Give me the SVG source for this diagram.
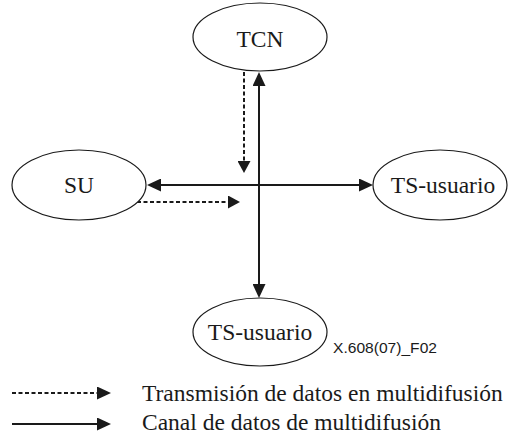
<svg xmlns="http://www.w3.org/2000/svg" width="509" height="438" viewBox="0 0 509 438">
  <style>
    .node ellipse { fill: #ffffff; stroke: #1a1a1a; stroke-width: 1.2; }
    .solid { stroke: #1a1a1a; stroke-width: 2; fill: none; }
    .dashed { stroke: #1a1a1a; stroke-width: 2; fill: none; stroke-dasharray: 4 2.5; }
  </style>
  <defs>
    <marker id="head" viewBox="0 0 14 13" markerWidth="14" markerHeight="13" refX="4" refY="6.5" orient="auto-start-reverse" markerUnits="userSpaceOnUse">
      <path d="M0,0 L14,6.5 L0,13 z" fill="#1a1a1a"/>
    </marker>
    <marker id="headSmall" viewBox="0 0 12 13" markerWidth="12" markerHeight="13" refX="3" refY="6.5" orient="auto" markerUnits="userSpaceOnUse">
      <path d="M0,0 L12,6.5 L0,13 z" fill="#1a1a1a"/>
    </marker>
  </defs>

  <!-- connectors -->
  <g id="connectors">
    <!-- multicast data channel: vertical TCN <-> TS-usuario (bottom) -->
    <line class="solid" x1="259" y1="82" x2="259" y2="288" marker-start="url(#head)" marker-end="url(#head)"/>
    <!-- multicast data channel: horizontal SU <-> TS-usuario (right) -->
    <line class="solid" x1="157" y1="185" x2="363" y2="185" marker-start="url(#head)" marker-end="url(#head)"/>
    <!-- multicast data transmission from TCN -->
    <line class="dashed" x1="244" y1="72" x2="244" y2="164" marker-end="url(#headSmall)"/>
    <!-- multicast data transmission from SU -->
    <line class="dashed" x1="137" y1="202" x2="231" y2="202" marker-end="url(#headSmall)"/>
  </g>

  <g id="node-tcn" class="node">
    <ellipse cx="260" cy="37" rx="67" ry="34"/>
    <text font-family="'Liberation Serif', serif" font-size="23.5" fill="#1a1a1a" text-anchor="middle" x="260" y="47">TCN</text>
  </g>

  <g id="node-su" class="node">
    <ellipse cx="79" cy="185" rx="67" ry="35"/>
    <text font-family="'Liberation Serif', serif" font-size="23.5" fill="#1a1a1a" text-anchor="middle" x="79" y="193">SU</text>
  </g>

  <g id="node-ts-right" class="node">
    <ellipse cx="440" cy="185" rx="67" ry="35"/>
    <text font-family="'Liberation Serif', serif" font-size="23.5" fill="#1a1a1a" text-anchor="middle" x="443" y="193">TS-usuario</text>
  </g>

  <g id="node-ts-bottom" class="node">
    <ellipse cx="260" cy="332" rx="67" ry="34"/>
    <text font-family="'Liberation Serif', serif" font-size="23.5" fill="#1a1a1a" text-anchor="middle" x="260" y="340">TS-usuario</text>
  </g>

  <text font-family="'Liberation Sans', sans-serif" font-size="14" fill="#1a1a1a" x="333" y="353" textLength="104" lengthAdjust="spacingAndGlyphs">X.608(07)_F02</text>

  <!-- legend -->
  <g id="legend">
    <line class="dashed" x1="12" y1="393" x2="101" y2="393" marker-end="url(#head)"/>
    <text font-family="'Liberation Serif', serif" font-size="23.5" fill="#1a1a1a" x="142" y="401">Transmisión de datos en multidifusión</text>
    <line class="solid" x1="12" y1="424" x2="101" y2="424" marker-end="url(#head)"/>
    <text font-family="'Liberation Serif', serif" font-size="23.5" fill="#1a1a1a" x="142" y="430">Canal de datos de multidifusión</text>
  </g>
</svg>
